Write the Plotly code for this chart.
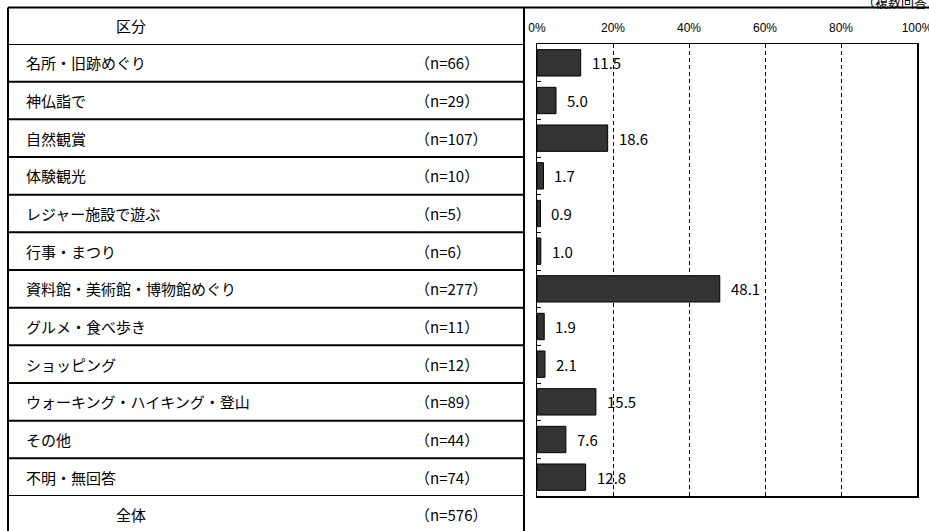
import plotly.graph_objects as go

# ---- data ----
categories = ["名所・旧跡めぐり", "神仏詣で", "自然観賞", "体験観光", "レジャー施設で遊ぶ",
              "行事・まつり", "資料館・美術館・博物館めぐり", "グルメ・食べ歩き", "ショッピング",
              "ウォーキング・ハイキング・登山", "その他", "不明・無回答"]
n_values = [66, 29, 107, 10, 5, 6, 277, 11, 12, 89, 44, 74]
percent = [11.5, 5.0, 18.6, 1.7, 0.9, 1.0, 48.1, 1.9, 2.1, 15.5, 7.6, 12.8]
total_label = "全体"
total_n = 576
header_label = "区分"
note_label = "（複数回答）"
tick_vals = [0, 20, 40, 60, 80, 100]
tick_text = ["0%", "20%", "40%", "60%", "80%", "100%"]

# ---- layout constants (pixels) ----
W, H = 929, 531
PX0, PX1 = 537, 917     # plot area x
PY0, PY1 = 44, 496      # plot area y (top, bottom)
TX0, TX1 = 8, 524       # table x
TOP = 7.5               # top line y
LABEL_X = 24
N_X = 413
HEAD_X = 131

def px(x):
    return x / W

def py(y):
    return 1 - y / H

font_jp = "Noto Sans CJK JP"

fig = go.Figure()
fig.add_trace(go.Bar(
    x=percent, y=categories, orientation="h",
    marker=dict(color="#333333", line=dict(color="#000000", width=1)),
    hoverinfo="skip",
))

annotations = []
# value labels
for c, v in zip(categories, percent):
    annotations.append(dict(x=v, y=c, xref="x", yref="y", text=f"{v:.1f}",
                            xanchor="left", yanchor="middle", xshift=9, showarrow=False,
                            font=dict(size=15, color="#000", family=font_jp)))
# table labels
for c, n in zip(categories, n_values):
    annotations.append(dict(x=px(LABEL_X), y=c, xref="paper", yref="y", text=c,
                            xanchor="left", yanchor="middle", showarrow=False,
                            font=dict(size=15, color="#000", family=font_jp)))
    annotations.append(dict(x=px(N_X), y=c, xref="paper", yref="y", text=f"（n={n}）",
                            xanchor="left", yanchor="middle", showarrow=False,
                            font=dict(size=15, color="#000", family=font_jp)))
row_h = (PY1 - PY0) / len(categories)
total_y = PY1 + row_h / 2
annotations.append(dict(x=px(HEAD_X), y=py(total_y), xref="paper", yref="paper", text=total_label,
                        xanchor="center", yanchor="middle", showarrow=False,
                        font=dict(size=15, color="#000", family=font_jp)))
annotations.append(dict(x=px(N_X), y=py(total_y), xref="paper", yref="paper", text=f"（n={total_n}）",
                        xanchor="left", yanchor="middle", showarrow=False,
                        font=dict(size=15, color="#000", family=font_jp)))
annotations.append(dict(x=px(HEAD_X), y=py((TOP + PY0) / 2), xref="paper", yref="paper", text=header_label,
                        xanchor="center", yanchor="middle", showarrow=False,
                        font=dict(size=15, color="#000", family=font_jp)))
annotations.append(dict(x=1, y=1, xref="paper", yref="paper", text=note_label,
                        xanchor="right", yanchor="middle", xshift=13, yshift=-1, showarrow=False,
                        font=dict(size=13, color="#000", family=font_jp)))

shapes = []
line = dict(color="#000000", width=2)
# top line spanning the whole width
shapes.append(dict(type="line", xref="paper", yref="paper", x0=px(TX0), x1=1, y0=py(TOP), y1=py(TOP), line=line))
# vertical table borders
for xv in (TX0, TX1):
    shapes.append(dict(type="line", xref="paper", yref="paper", x0=px(xv), x1=px(xv), y0=py(TOP), y1=0, line=line))
# row separators at category boundaries
for k in range(len(categories) + 1):
    shapes.append(dict(type="line", xref="paper", yref="y", x0=px(TX0), x1=px(TX1),
                       y0=k - 0.5, y1=k - 0.5, line=line))

fig.update_layout(
    width=W, height=H,
    margin=dict(l=0, r=0, t=0, b=0, autoexpand=False),
    paper_bgcolor="white", plot_bgcolor="white",
    showlegend=False,
    bargap=0.3,
    font=dict(family=font_jp, color="#000"),
    annotations=annotations,
    shapes=shapes,
    xaxis=dict(
        domain=[px(PX0), px(PX1)], range=[0, 100], side="top",
        tickvals=tick_vals, ticktext=tick_text,
        tickfont=dict(size=12, family="Liberation Sans", color="#000"),
        ticks="", ticklabelstandoff=6, ticklabeloverflow="allow", automargin=False,
        showgrid=True, gridcolor="#000", gridwidth=1, griddash="4px,3px",
        zeroline=False, showline=True, mirror=True, linecolor="#000", linewidth=1.5,
    ),
    yaxis=dict(
        domain=[py(PY1), py(PY0)], type="category",
        range=[len(categories) - 0.5, -0.5],
        showticklabels=False, ticks="inside", tickson="boundaries", ticklen=4,
        tickcolor="#000", tickwidth=1, automargin=False,
        showgrid=False, zeroline=False, showline=True, mirror=True,
        linecolor="#000", linewidth=1.5,
    ),
)

fig.write_html(
    "out.html",
    config={"displayModeBar": False, "staticPlot": True},
    post_script="document.body.style.margin='0';document.body.style.overflow='hidden';",
)
